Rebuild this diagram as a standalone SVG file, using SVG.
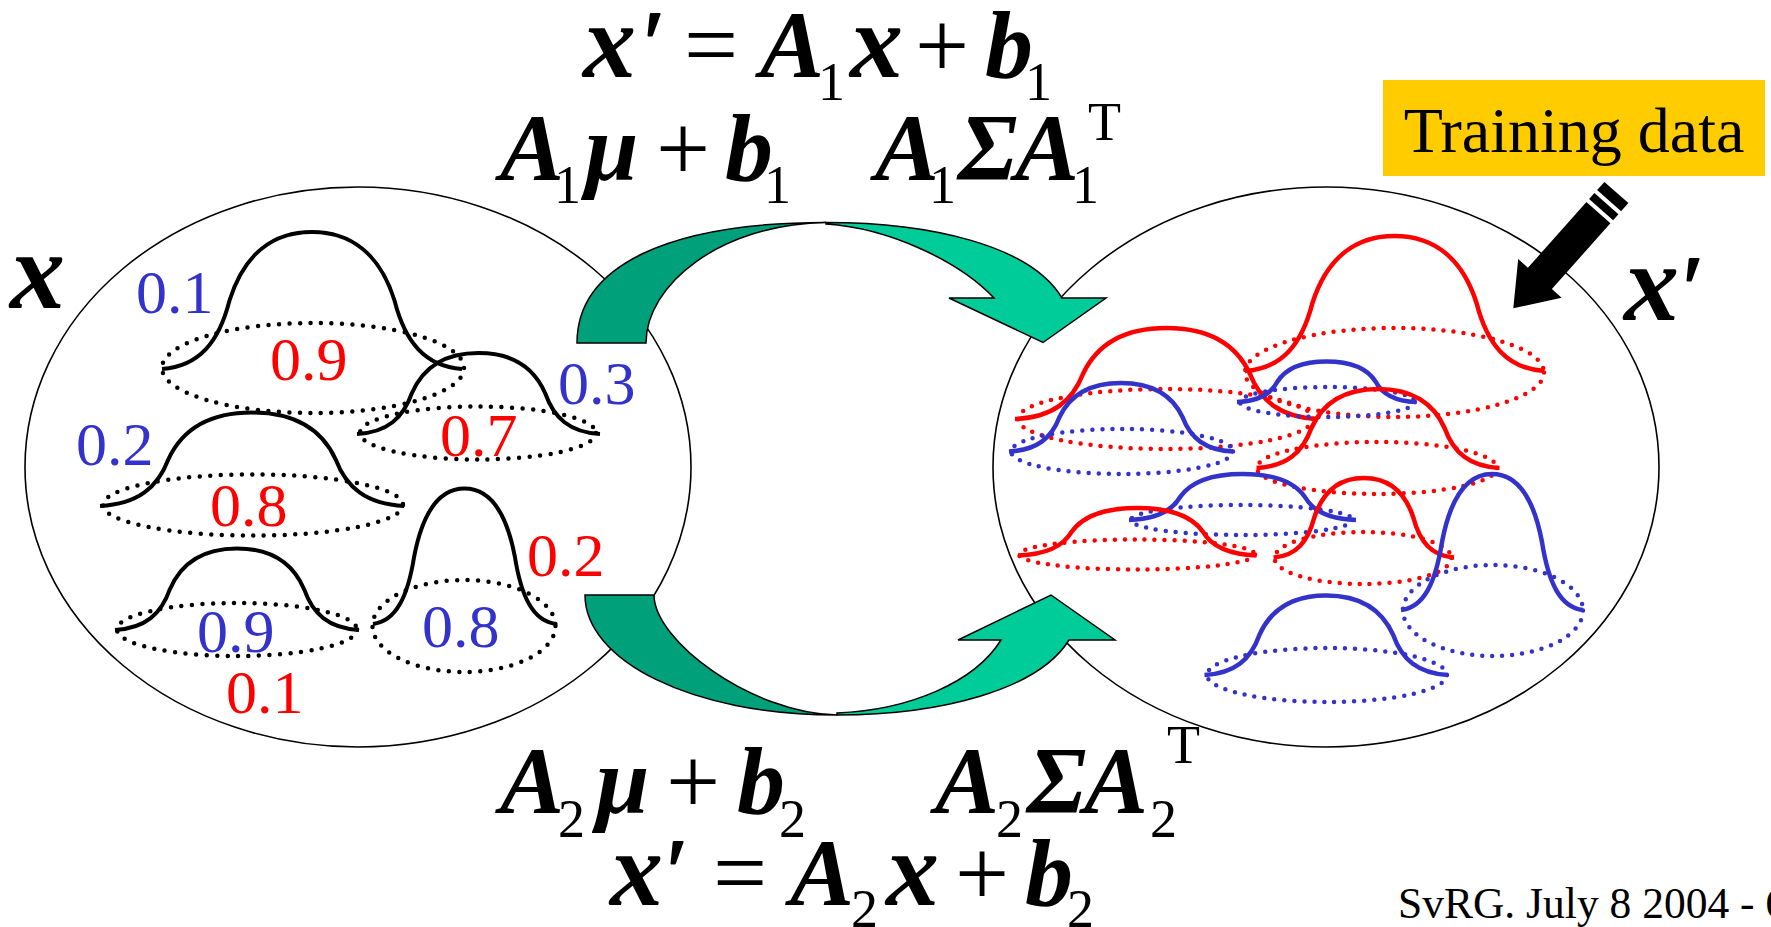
<svg xmlns="http://www.w3.org/2000/svg" width="1771" height="927" viewBox="0 0 1771 927">
<style>
.space{fill:none;stroke:#000;stroke-width:1.6}
.dk{fill:#00A07A;stroke:#000;stroke-width:1.5;stroke-linejoin:miter}
.lt{fill:#00CC99;stroke:#000;stroke-width:1.5;stroke-linejoin:miter}
.bk{fill:none;stroke:#000;stroke-width:4;stroke-linecap:butt}
.rd{fill:none;stroke:#FF0000;stroke-width:4.5}
.bl{fill:none;stroke:#3333CC;stroke-width:4.5}
.dotk{fill:none;stroke:#000;stroke-width:4.5;stroke-linecap:round;stroke-dasharray:0 10.5}
.dotr{fill:none;stroke:#FF0000;stroke-width:4.5;stroke-linecap:round;stroke-dasharray:0 10}
.dotb{fill:none;stroke:#3333CC;stroke-width:4.5;stroke-linecap:round;stroke-dasharray:0 10}
.num{font-family:"Liberation Serif","Times New Roman",serif;font-size:62px}
.nb{fill:#3333CC}
.nr{fill:#FF0000}
.m{font-family:"Liberation Serif","Times New Roman","DejaVu Serif",serif;font-size:96px;fill:#000}
.bi{font-weight:bold;font-style:italic}
.vx{font-size:106px}
.sub{font-size:54px}
.pr{font-size:92px;font-weight:normal;font-style:normal;stroke:#000;stroke-width:2;stroke-linejoin:round}
</style>

<g id="left-space">
  <ellipse class="space" cx="358" cy="467" rx="333" ry="280"/>
</g>
<g id="right-space">
  <ellipse class="space" cx="1326" cy="467" rx="333" ry="280"/>
</g>

<g id="connectors">
  <g id="arrow-top">
    <path class="dk" d="M577,343 C577,265 670,222.5 826,222.5 C720,224 646,285 646,343 Z"/>
    <path class="lt" d="M826,222.5 C930,222.5 1030,245 1062,298 L1106,298 L1043,342.5 L949,298 L994,298 C960,262 890,228 826,224 Z"/>
  </g>
  <g id="arrow-bottom">
    <path class="dk" d="M585,595 C585,660 690,715 837,715 C750,713 654,640 654,595 Z"/>
    <path class="lt" d="M837,715 C940,715 1038,690 1069,640 L1115,640 L1051,595 L958,640 L1001,640 C975,682 910,710 837,713 Z"/>
  </g>
</g>

<g id="left-gaussians">
  <ellipse class="dotk" cx="313" cy="368" rx="151" ry="45"/>
  <path class="bk" d="M162,369 c37.5,-2.7 57,-27.4 67.5,-68.5 c15,-48 45,-68.5 82.5,-68.5 c37.5,0 67.5,20.6 82.5,68.5 c10.5,41 30,65.8 67.5,68.5"/>
  <ellipse class="dotk" cx="478" cy="433" rx="118" ry="26.5"/>
  <path class="bk" d="M357,434 c30.4,-1.6 46.2,-16.2 54.7,-40.5 c12.2,-28.4 36.5,-40.5 66.8,-40.5 c30.4,0 54.7,12.2 66.8,40.5 c8.5,24.3 24.3,38.9 54.7,40.5"/>
  <ellipse class="dotk" cx="253" cy="505" rx="150" ry="30.6"/>
  <path class="bk" d="M100,506 c38,-1.9 57.8,-18.7 68.4,-46.7 c15.2,-32.7 45.6,-46.7 83.6,-46.7 c38,0 68.4,14 83.6,46.7 c10.6,28 30.4,44.8 68.4,46.7"/>
  <ellipse class="dotk" cx="237" cy="629.5" rx="120" ry="26.5"/>
  <path class="bk" d="M115,630 c30.5,-1.6 46.4,-16.3 54.9,-40.8 c12.2,-28.5 36.6,-40.8 67.1,-40.8 c30.5,0 54.9,12.2 67.1,40.8 c8.5,24.5 24.4,39.1 54.9,40.8"/>
  <ellipse class="dotk" cx="464" cy="626" rx="91.5" ry="46"/>
  <path class="bk" d="M373,624 c22.9,-2.7 34.8,-27.1 41.2,-67.7 c9.2,-47.4 27.5,-67.7 50.3,-67.7 c22.9,0 41.2,20.3 50.3,67.7 c6.4,40.6 18.3,65 41.2,67.7"/>
</g>

<g id="left-weights" class="num">
  <text class="nb" x="136" y="313">0.1</text>
  <text class="nr" x="270" y="380">0.9</text>
  <text class="nb" x="558" y="404">0.3</text>
  <text class="nr" x="440" y="456">0.7</text>
  <text class="nb" x="76" y="465">0.2</text>
  <text class="nr" x="210" y="526">0.8</text>
  <text class="nr" x="527" y="576">0.2</text>
  <text class="nb" x="197" y="652">0.9</text>
  <text class="nb" x="422" y="647">0.8</text>
  <text class="nr" x="226" y="713">0.1</text>
</g>

<g id="right-gaussians">
  <ellipse class="dotr" cx="1394.5" cy="372.5" rx="149.5" ry="44.5"/>
  <path class="rd" d="M1245,371 c37.4,-2.7 56.8,-27 67.3,-67.5 c15,-47.3 44.9,-67.5 82.2,-67.5 c37.4,0 67.3,20.3 82.2,67.5 c10.5,40.5 29.9,64.8 67.3,67.5"/>
  <ellipse class="dotr" cx="1165.5" cy="419" rx="147.5" ry="30"/>
  <path class="rd" d="M1015,419 c37.9,-1.8 57.6,-18.2 68.2,-45.5 c15.2,-31.9 45.5,-45.5 83.3,-45.5 c37.9,0 68.2,13.7 83.3,45.5 c10.6,27.3 30.3,43.7 68.2,45.5"/>
  <ellipse class="dotb" cx="1122" cy="451.5" rx="111" ry="22.5"/>
  <path class="bl" d="M1009,451.5 c28,-1.4 42.6,-13.7 50.4,-34.3 c11.2,-24 33.6,-34.3 61.6,-34.3 c28,0 50.4,10.3 61.6,34.3 c7.8,20.6 22.4,32.9 50.4,34.3"/>
  <ellipse class="dotb" cx="1327.5" cy="402" rx="87.5" ry="15"/>
  <path class="bl" d="M1237,402 c22.4,-0.8 34,-8.1 40.3,-20.3 c9,-14.2 26.9,-20.3 49.2,-20.3 c22.4,0 40.3,6.1 49.2,20.3 c6.3,12.2 17.9,19.4 40.3,20.3"/>
  <ellipse class="dotr" cx="1377" cy="468" rx="120" ry="26"/>
  <path class="rd" d="M1256.5,468 c30.4,-1.6 46.2,-15.8 54.7,-39.5 c12.2,-27.7 36.5,-39.5 66.8,-39.5 c30.4,0 54.7,11.9 66.8,39.5 c8.5,23.7 24.3,37.9 54.7,39.5"/>
  <ellipse class="dotb" cx="1242" cy="520" rx="111" ry="15"/>
  <path class="bl" d="M1129,520 c28.4,-0.9 43.1,-9.2 51.1,-23 c11.4,-16.1 34.1,-23 62.4,-23 c28.4,0 51.1,6.9 62.4,23 c7.9,13.8 22.7,22.1 51.1,23"/>
  <ellipse class="dotr" cx="1137" cy="554.5" rx="118" ry="15"/>
  <path class="rd" d="M1018,555.5 c29.8,-1 45.3,-9.5 53.7,-23.8 c11.9,-16.6 35.8,-23.8 65.6,-23.8 c29.8,0 53.7,7.1 65.6,23.8 c8.3,14.3 23.9,22.8 53.7,23.8"/>
  <ellipse class="dotr" cx="1363" cy="558" rx="88.5" ry="26"/>
  <path class="rd" d="M1273.6,557.5 c22.6,-1.6 34.3,-15.9 40.6,-39.8 c9,-27.8 27.1,-39.8 49.6,-39.8 c22.6,0 40.6,11.9 49.6,39.8 c6.3,23.9 18,38.2 40.6,39.8"/>
  <ellipse class="dotb" cx="1493" cy="610.5" rx="90" ry="45.5"/>
  <path class="bl" d="M1401,610 c22.8,-2.7 34.6,-27.2 41,-68 c9.1,-47.6 27.3,-68 50,-68 c22.8,0 41,20.4 50,68 c6.4,40.8 18.2,65.3 41,68"/>
  <ellipse class="dotb" cx="1327" cy="675" rx="120" ry="27"/>
  <path class="bl" d="M1204.5,675 c30.4,-1.6 46.3,-15.9 54.8,-39.8 c12.2,-27.8 36.5,-39.8 67,-39.8 c30.4,0 54.8,11.9 67,39.8 c8.5,23.9 24.4,38.2 54.8,39.8"/>
</g>

<g id="space-labels" class="m">
  <text class="bi" x="10" y="308" style="font-size:110px">x</text>
  <text class="bi" x="1624" y="320" style="font-size:110px">x</text>
  <text class="pr" x="1683" y="319">′</text>
</g>

<g id="formula-top" class="m">
  <text y="77"><tspan class="bi vx" x="583">x</tspan><tspan x="684">=</tspan><tspan class="bi" x="760">A</tspan><tspan x="850" class="bi vx">x</tspan><tspan x="915">+</tspan><tspan class="bi" x="985">b</tspan></text>
  <text class="pr" x="644" y="74">′</text>
  <text class="sub" y="100"><tspan x="818">1</tspan><tspan x="1025">1</tspan></text>
  <text y="180"><tspan class="bi" x="500">A</tspan><tspan class="bi" x="585">μ</tspan><tspan x="656">+</tspan><tspan class="bi" x="725">b</tspan><tspan class="bi" x="875">A</tspan><tspan class="bi" x="958">Σ</tspan><tspan class="bi" x="1015">A</tspan></text>
  <text class="sub" y="203"><tspan x="554">1</tspan><tspan x="764">1</tspan><tspan x="929">1</tspan><tspan x="1072">1</tspan></text>
  <text class="sub" x="1088" y="140">T</text>
</g>

<g id="formula-bottom" class="m">
  <text y="813"><tspan class="bi" x="500">A</tspan><tspan class="bi" x="596">μ</tspan><tspan x="666">+</tspan><tspan class="bi" x="737">b</tspan><tspan class="bi" x="935">A</tspan><tspan class="bi" x="1027">Σ</tspan><tspan class="bi" x="1084">A</tspan></text>
  <text class="sub" y="837"><tspan x="558">2</tspan><tspan x="779">2</tspan><tspan x="996">2</tspan><tspan x="1150">2</tspan></text>
  <text class="sub" x="1167" y="763">T</text>
  <text y="905"><tspan class="bi vx" x="610">x</tspan><tspan x="713">=</tspan><tspan class="bi" x="790">A</tspan><tspan class="bi vx" x="886">x</tspan><tspan x="955">+</tspan><tspan class="bi" x="1025">b</tspan></text>
  <text class="pr" x="667" y="902">′</text>
  <text class="sub" y="927"><tspan x="851">2</tspan><tspan x="1067">2</tspan></text>
</g>

<g id="training-data">
  <rect x="1383" y="80" width="382" height="96" fill="#FFCC00"/>
  <text x="1574" y="152" text-anchor="middle" font-family="Liberation Serif, Times New Roman, serif" font-size="64">Training data</text>
  <g id="pencil" fill="#000">
    <polygon points="1513.3,308.3 1561.6,297.7 1551.9,289 1610.4,223.3 1586.4,202.1 1527.9,267.8 1518.2,259.1"/>
    <polygon points="1613.1,220.3 1589.1,199.1 1594.4,193.1 1618.4,214.3"/>
    <polygon points="1621.1,211.3 1597.1,190.1 1604.4,181.9 1628.4,203.1"/>
  </g>
</g>

<g id="footer">
  <text x="1398" y="918" font-family="Liberation Serif, Times New Roman, serif" font-size="43.5">SvRG. July 8 2004 - 6</text>
</g>
</svg>
